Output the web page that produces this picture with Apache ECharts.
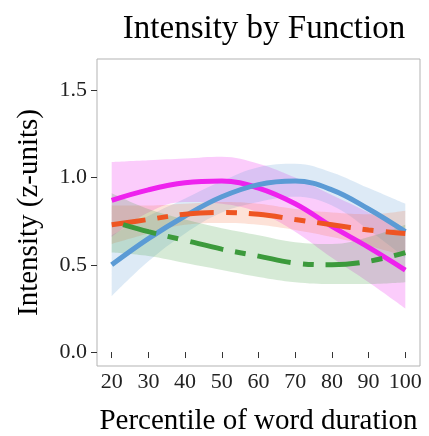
<!DOCTYPE html>
<html>
<head>
<meta charset="utf-8">
<script src="https://cdn.jsdelivr.net/npm/echarts@6/dist/echarts.min.js"></script>
<style>
  html, body { margin: 0; padding: 0; background: #fff; }
  #chart { width: 429px; height: 436px; }
</style>
</head>
<body>
<div id="chart"></div>
<script>
// percentile of word duration
const xs = [20, 30, 40, 50, 60, 70, 80, 90, 100];
const xTicks = [20, 30, 40, 50, 60, 70, 80, 90, 100];
const yTicks = [0, 0.5, 1.0, 1.5];

// fitted lines
const magentaFit = [0.87, 0.93, 0.97, 0.98, 0.94, 0.85, 0.72, 0.60, 0.47];
const blueFit    = [0.50, 0.65, 0.78, 0.89, 0.96, 0.98, 0.93, 0.82, 0.69];
const orangeFit  = [0.73, 0.76, 0.79, 0.80, 0.79, 0.76, 0.73, 0.70, 0.68];
const greenFit   = [0.75, 0.69, 0.64, 0.59, 0.55, 0.51, 0.50, 0.52, 0.57];

// confidence bands (lower / upper)
const magentaLo = [0.66, 0.80, 0.86, 0.85, 0.80, 0.69, 0.54, 0.40, 0.25];
const magentaHi = [1.09, 1.10, 1.11, 1.12, 1.08, 1.00, 0.90, 0.80, 0.69];
const blueLo    = [0.32, 0.52, 0.68, 0.80, 0.86, 0.89, 0.84, 0.70, 0.54];
const blueHi    = [0.67, 0.78, 0.88, 0.98, 1.06, 1.08, 1.03, 0.94, 0.85];
const orangeLo  = [0.62, 0.68, 0.73, 0.74, 0.73, 0.70, 0.66, 0.61, 0.55];
const orangeHi  = [0.84, 0.84, 0.85, 0.86, 0.85, 0.82, 0.80, 0.79, 0.81];
const greenLo   = [0.57, 0.55, 0.51, 0.47, 0.43, 0.40, 0.39, 0.39, 0.40];
const greenHi   = [0.91, 0.82, 0.76, 0.71, 0.67, 0.63, 0.62, 0.66, 0.73];

const serif = 'Liberation Serif';

const groups = [
  { key: 'magenta', fit: magentaFit, lo: magentaLo, hi: magentaHi, color: '#ee22ee', band: 'rgba(240,40,240,0.24)', dash: 'solid' },
  { key: 'blue', fit: blueFit, lo: blueLo, hi: blueHi, color: '#5b9bd5', band: 'rgba(100,160,215,0.22)', dash: 'solid' },
  { key: 'orange', fit: orangeFit, lo: orangeLo, hi: orangeHi, color: '#ee5522', band: 'rgba(245,110,60,0.2)', dash: [34, 12, 11, 12], offset: 0 },
  { key: 'green', fit: greenFit, lo: greenLo, hi: greenHi, color: '#3c9a3c', band: 'rgba(70,160,70,0.22)', dash: [34, 12, 11, 12], offset: 57 }
];

const series = [];
// bands: lower edge + (upper - lower) stacked; y value first so the stack runs on y
groups.forEach(g => {
  series.push({
    type: 'line', stack: g.key, smooth: 0.4, symbol: 'none', silent: true, z: 1,
    encode: { x: 1, y: 0 },
    lineStyle: { opacity: 0 },
    data: xs.map((x, i) => [g.lo[i], x])
  });
  series.push({
    type: 'line', stack: g.key, smooth: 0.4, symbol: 'none', silent: true, z: 1,
    encode: { x: 1, y: 0 },
    lineStyle: { opacity: 0 },
    areaStyle: { color: g.band, opacity: 1 },
    data: xs.map((x, i) => [g.hi[i] - g.lo[i], x])
  });
});
groups.forEach(g => {
  series.push({
    type: 'line', smooth: 0.4, symbol: 'none', z: 5,
    lineStyle: { color: g.color, width: 5, type: g.dash, dashOffset: g.offset || 0, cap: 'butt' },
    data: xs.map((x, i) => [x, g.fit[i]])
  });
});

const chart = echarts.init(document.getElementById('chart'));
chart.setOption({
  animation: false,
  title: {
    text: 'Intensity by Function',
    left: 259, top: 8, textAlign: 'center',
    textStyle: { fontFamily: serif, fontSize: 33, fontWeight: 'normal', color: '#000' }
  },
  grid: { left: 97, right: 9, top: 59, bottom: 70, outerBoundsMode: 'none',
    show: true, borderColor: '#b3b3b3', borderWidth: 1 },
  xAxis: {
    type: 'value', min: 16, max: 104,
    name: 'Percentile of word duration', nameLocation: 'middle', nameGap: 41,
    nameTextStyle: { fontFamily: serif, fontSize: 29, color: '#000' },
    axisLine: { show: false },
    axisTick: { show: true, length: 6, lineStyle: { color: '#333' }, customValues: xTicks },
    axisLabel: { fontFamily: serif, fontSize: 22, color: '#222', margin: 5, customValues: xTicks },
    splitLine: { show: false }
  },
  yAxis: {
    type: 'value', min: -0.08, max: 1.68,
    name: 'Intensity (z-units)', nameLocation: 'middle', nameGap: 53, nameRotate: 90,
    nameTextStyle: { fontFamily: serif, fontSize: 29, color: '#000' },
    axisLine: { show: false },
    axisTick: { show: true, length: 6, lineStyle: { color: '#333' }, customValues: yTicks },
    axisLabel: { fontFamily: serif, fontSize: 22, color: '#222', margin: 10, customValues: yTicks,
      formatter: v => v.toFixed(1) },
    splitLine: { show: false }
  },
  series: series
});
</script>
</body>
</html>
